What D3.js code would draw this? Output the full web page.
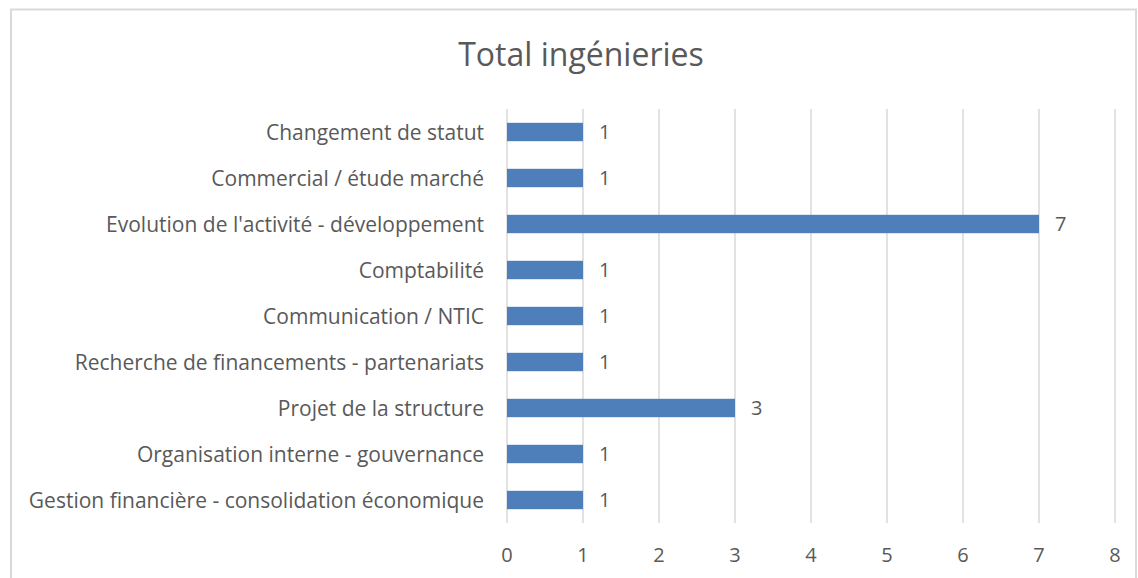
<!DOCTYPE html>
<html>
<head>
<meta charset="utf-8">
<script src="https://cdn.jsdelivr.net/npm/d3@7"></script>
<style>
  html, body { margin: 0; padding: 0; background: #fff; }
  svg { display: block; font-family: "Open Sans", "Noto Sans", sans-serif; }
</style>
</head>
<body>
<div id="chart"></div>
<script>
// data, top to bottom as shown
const categories = [
  "Changement de statut",
  "Commercial / étude marché",
  "Evolution de l'activité - développement",
  "Comptabilité",
  "Communication / NTIC",
  "Recherche de financements - partenariats",
  "Projet de la structure",
  "Organisation interne - gouvernance",
  "Gestion financière - consolidation économique"
];
const values = [1, 1, 7, 1, 1, 1, 3, 1, 1];
const xTicks = [0, 1, 2, 3, 4, 5, 6, 7, 8];
const title = "Total ingénieries";

const W = 1138, H = 578;
const margin = { top: 109, right: 23, bottom: 55, left: 507 };
const textColor = "#595959";

const svg = d3.select('#chart').append('svg')
  .attr('width', W).attr('height', H);

// chart frame
svg.append('rect')
  .attr('x', 11).attr('y', 9.5)
  .attr('width', 1125).attr('height', 620)
  .attr('fill', 'none').attr('stroke', '#d9d9d9').attr('stroke-width', 2);

svg.append('text')
  .attr('x', 581).attr('y', 66)
  .attr('text-anchor', 'middle')
  .attr('fill', textColor)
  .style('font-size', '32px')
  .text(title);

const x = d3.scaleLinear().domain([0, 8]).range([margin.left, W - margin.right]);
const y = d3.scaleBand().domain(categories).range([margin.top, H - margin.bottom]).paddingInner(0.6).paddingOuter(0.3);

// gridlines
svg.append('g').selectAll('line').data(xTicks).join('line')
  .attr('x1', d => x(d)).attr('x2', d => x(d))
  .attr('y1', margin.top).attr('y2', H - margin.bottom)
  .attr('stroke', '#d9d9d9').attr('stroke-width', 1.5);

// x tick labels
svg.append('g').selectAll('text').data(xTicks).join('text')
  .attr('x', d => x(d)).attr('y', 562)
  .attr('text-anchor', 'middle')
  .attr('fill', textColor)
  .style('font-size', '20px')
  .text(d => d);

// bars
svg.append('g').selectAll('rect').data(categories).join('rect')
  .attr('x', x(0))
  .attr('y', d => y(d))
  .attr('width', (d, i) => x(values[i]) - x(0))
  .attr('height', y.bandwidth())
  .attr('fill', '#4e7fbb');

// value labels
svg.append('g').selectAll('text').data(categories).join('text')
  .attr('x', (d, i) => x(values[i]) + 16)
  .attr('y', d => y(d) + y.bandwidth() / 2)
  .attr('dy', '0.36em')
  .attr('fill', textColor)
  .style('font-size', '20px')
  .text((d, i) => values[i]);

// category labels
svg.append('g').selectAll('text').data(categories).join('text')
  .attr('x', 484)
  .attr('y', d => y(d) + y.bandwidth() / 2)
  .attr('dy', '0.36em')
  .attr('text-anchor', 'end')
  .attr('fill', textColor)
  .style('font-size', '21px')
  .text(d => d);
</script>
</body>
</html>
